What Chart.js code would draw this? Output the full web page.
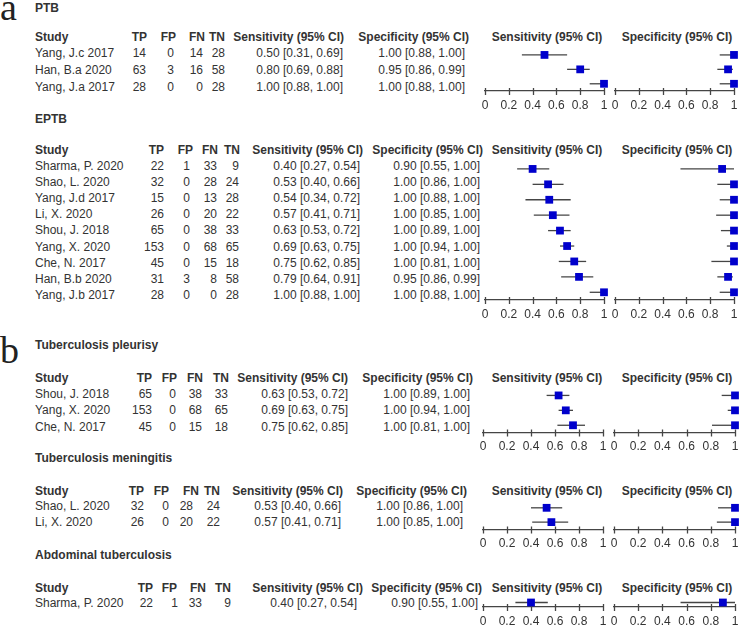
<!DOCTYPE html>
<html>
<head>
<meta charset="utf-8">
<script src="https://cdn.jsdelivr.net/npm/chart.js@4"></script>
<style>
  body { margin: 0; width: 740px; height: 626px; background: #fff; position: relative; overflow: hidden;
         font-family: Arial, Helvetica, sans-serif; color: #333; }
  .t { position: absolute; font-size: 12px; line-height: 14px; height: 14px; white-space: nowrap; }
  .b { font-weight: bold; }
  .panel { position: absolute; left: 0; font-family: "Liberation Serif", "Times New Roman", serif; font-size: 38px; line-height: 38px; color: #222; }
  .fp { position: absolute; }
</style>
</head>
<body>
<div class="panel" style="top:-12px">a</div>
<div class="panel" style="top:331px">b</div>
<script>
// PTB
var ptbStudies = ['Yang, J.c 2017', 'Han, B.a 2020', 'Yang, J.a 2017'];
var ptbCounts = [[14, 0, 14, 28], [63, 3, 16, 58], [28, 0, 0, 28]];
var ptbSens = [[0.50, 0.31, 0.69], [0.80, 0.69, 0.88], [1.00, 0.88, 1.00]];
var ptbSpec = [[1.00, 0.88, 1.00], [0.95, 0.86, 0.99], [1.00, 0.88, 1.00]];

// EPTB
var eptbStudies = ['Sharma, P. 2020', 'Shao, L. 2020', 'Yang, J.d 2017', 'Li, X. 2020', 'Shou, J. 2018',
                   'Yang, X. 2020', 'Che, N. 2017', 'Han, B.b 2020', 'Yang, J.b 2017'];
var eptbCounts = [[22, 1, 33, 9], [32, 0, 28, 24], [15, 0, 13, 28], [26, 0, 20, 22], [65, 0, 38, 33],
                  [153, 0, 68, 65], [45, 0, 15, 18], [31, 3, 8, 58], [28, 0, 0, 28]];
var eptbSens = [[0.40, 0.27, 0.54], [0.53, 0.40, 0.66], [0.54, 0.34, 0.72], [0.57, 0.41, 0.71], [0.63, 0.53, 0.72],
                [0.69, 0.63, 0.75], [0.75, 0.62, 0.85], [0.79, 0.64, 0.91], [1.00, 0.88, 1.00]];
var eptbSpec = [[0.90, 0.55, 1.00], [1.00, 0.86, 1.00], [1.00, 0.88, 1.00], [1.00, 0.85, 1.00], [1.00, 0.89, 1.00],
                [1.00, 0.94, 1.00], [1.00, 0.81, 1.00], [0.95, 0.86, 0.99], [1.00, 0.88, 1.00]];

// Tuberculosis pleurisy
var pleuStudies = ['Shou, J. 2018', 'Yang, X. 2020', 'Che, N. 2017'];
var pleuCounts = [[65, 0, 38, 33], [153, 0, 68, 65], [45, 0, 15, 18]];
var pleuSens = [[0.63, 0.53, 0.72], [0.69, 0.63, 0.75], [0.75, 0.62, 0.85]];
var pleuSpec = [[1.00, 0.89, 1.00], [1.00, 0.94, 1.00], [1.00, 0.81, 1.00]];

// Tuberculosis meningitis
var meniStudies = ['Shao, L. 2020', 'Li, X. 2020'];
var meniCounts = [[32, 0, 28, 24], [26, 0, 20, 22]];
var meniSens = [[0.53, 0.40, 0.66], [0.57, 0.41, 0.71]];
var meniSpec = [[1.00, 0.86, 1.00], [1.00, 0.85, 1.00]];

// Abdominal tuberculosis
var abdoStudies = ['Sharma, P. 2020'];
var abdoCounts = [[22, 1, 33, 9]];
var abdoSens = [[0.40, 0.27, 0.54]];
var abdoSpec = [[0.90, 0.55, 1.00]];

var countHeaders = ['TP', 'FP', 'FN', 'TN'];
var axisTicks = [0, 0.2, 0.4, 0.6, 0.8, 1];

// where each block sits on the page
var sections = [
    { title: 'PTB', studies: ptbStudies, counts: ptbCounts, sens: ptbSens, spec: ptbSpec,
      titleY: 8, headY: 37, rowY: 53, rowStep: 17,
      colR: [146, 174, 203, 225], headR: [147, 176, 205, 225], sensR: 343, sensHeadR: 344, specR: 465, specHeadR: 469,
      markY: 51, markStep: 16, axisY: 91, sensAxis: [485, 604], specAxis: [615, 734] },
    { title: 'EPTB', studies: eptbStudies, counts: eptbCounts, sens: eptbSens, spec: eptbSpec,
      titleY: 119, headY: 150, rowY: 165.5, rowStep: 16.2,
      colR: [164, 190, 217, 239], headR: [164, 193, 218, 240], sensR: 360, sensHeadR: 363, specR: 480, specHeadR: 483,
      markY: 164, markStep: 16, axisY: 300, sensAxis: [485, 604], specAxis: [615, 734] },
    { title: 'Tuberculosis pleurisy', studies: pleuStudies, counts: pleuCounts, sens: pleuSens, spec: pleuSpec,
      titleY: 345, headY: 378, rowY: 394, rowStep: 16.3,
      colR: [152, 176, 202, 228], headR: [152, 177, 203, 229], sensR: 348, sensHeadR: 348, specR: 470, specHeadR: 473,
      markY: 391, markStep: 16.5, axisY: 432, sensAxis: [483, 603], specAxis: [614, 735] },
    { title: 'Tuberculosis meningitis', studies: meniStudies, counts: meniCounts, sens: meniSens, spec: meniSpec,
      titleY: 458, headY: 491, rowY: 506, rowStep: 16,
      colR: [144, 169, 193, 220], headR: [144, 169, 199, 220], sensR: 341, sensHeadR: 343, specR: 463, specHeadR: 467,
      markY: 504, markStep: 16.5, axisY: 529, sensAxis: [483, 603], specAxis: [614, 735] },
    { title: 'Abdominal tuberculosis', studies: abdoStudies, counts: abdoCounts, sens: abdoSens, spec: abdoSpec,
      titleY: 555, headY: 588, rowY: 603, rowStep: 16,
      colR: [153, 178, 202, 231], headR: [153, 177, 206, 231], sensR: 357, sensHeadR: 363, specR: 478, specHeadR: 482,
      markY: 601, markStep: 16, axisY: 607, sensAxis: [483, 603], specAxis: [614, 735] }
];

function txt(s, x, y, align, bold) {
    var d = document.createElement('div');
    d.className = 't' + (bold ? ' b' : '');
    d.textContent = s;
    d.style.top = (y - 7) + 'px';
    if (align === 'right') {
        d.style.right = (740 - x) + 'px';
    } else if (align === 'center') {
        d.style.left = (x - 100) + 'px';
        d.style.width = '200px';
        d.style.textAlign = 'center';
    } else {
        d.style.left = x + 'px';
    }
    document.body.appendChild(d);
}

function ciText(v) {
    return v[0].toFixed(2) + ' [' + v[1].toFixed(2) + ', ' + v[2].toFixed(2) + ']';
}

// one small scatter chart per forest column
function forest(vals, x0, x1, markY, step, axisY) {
    var pad = 12, bottomH = 20;
    var top = markY - step;
    var box = document.createElement('div');
    box.className = 'fp';
    box.style.left = (x0 - pad) + 'px';
    box.style.top = top + 'px';
    box.style.width = (x1 - x0 + 2 * pad) + 'px';
    box.style.height = (axisY - top + bottomH) + 'px';
    var cv = document.createElement('canvas');
    box.appendChild(cv);
    document.body.appendChild(box);

    var ciPlugin = {
        id: 'ciLines',
        beforeDatasetsDraw: function(chart) {
            var ctx = chart.ctx, xs = chart.scales.x, ys = chart.scales.y;
            ctx.save();
            ctx.strokeStyle = '#454545';
            ctx.lineWidth = 1.3;
            vals.forEach(function(v, i) {
                var y = ys.getPixelForValue(i);
                ctx.beginPath();
                ctx.moveTo(xs.getPixelForValue(v[1]), y);
                ctx.lineTo(xs.getPixelForValue(v[2]), y);
                ctx.stroke();
            });
            // tick marks cross the axis line
            var ay = chart.chartArea.bottom;
            axisTicks.forEach(function(t) {
                var x = Math.round(xs.getPixelForValue(t)) + 0.5;
                ctx.beginPath();
                ctx.moveTo(x, ay - 3);
                ctx.lineTo(x, ay + 4);
                ctx.stroke();
            });
            ctx.restore();
        }
    };

    return new Chart(cv.getContext('2d'), {
        type: 'scatter',
        data: {
            datasets: [{
                data: vals.map(function(v, i) { return { x: v[0], y: i }; }),
                pointStyle: 'rect',
                pointRadius: 5.5,
                pointHoverRadius: 5.5,
                backgroundColor: '#0000cc',
                borderColor: '#0000cc',
                borderWidth: 0,
                clip: false
            }]
        },
        options: {
            responsive: true,
            maintainAspectRatio: false,
            animation: false,
            events: [],
            layout: { padding: { left: pad, right: pad, top: 0, bottom: 0 } },
            plugins: { legend: { display: false }, tooltip: { enabled: false } },
            scales: {
                x: {
                    type: 'linear',
                    min: 0,
                    max: 1,
                    afterBuildTicks: function(s) { s.ticks = axisTicks.map(function(v) { return { value: v }; }); },
                    afterFit: function(s) { s.height = bottomH; },
                    grid: { display: false },
                    border: { display: true, color: '#454545', width: 1.3 },
                    ticks: {
                        padding: -1,
                        color: '#333',
                        autoSkip: false,
                        maxRotation: 0,
                        font: { family: 'Arial, Helvetica, sans-serif', size: 12 },
                        callback: function(v) { return String(v); }
                    }
                },
                y: {
                    type: 'linear',
                    display: false,
                    reverse: true,
                    min: -1,
                    max: (axisY - top) / step - 1
                }
            }
        },
        plugins: [ciPlugin]
    });
}

sections.forEach(function(s) {
    txt(s.title, 35, s.titleY, 'left', true);
    txt('Study', 35, s.headY, 'left', true);
    countHeaders.forEach(function(h, j) { txt(h, s.headR[j], s.headY, 'right', true); });
    txt('Sensitivity (95% CI)', s.sensHeadR, s.headY, 'right', true);
    txt('Specificity (95% CI)', s.specHeadR, s.headY, 'right', true);
    txt('Sensitivity (95% CI)', 547, s.headY, 'center', true);
    txt('Specificity (95% CI)', 677, s.headY, 'center', true);

    s.studies.forEach(function(name, i) {
        var y = s.rowY + i * s.rowStep;
        txt(name, 35, y, 'left', false);
        s.counts[i].forEach(function(c, j) { txt(String(c), s.colR[j], y, 'right', false); });
        txt(ciText(s.sens[i]), s.sensR, y, 'right', false);
        txt(ciText(s.spec[i]), s.specR, y, 'right', false);
    });

    forest(s.sens, s.sensAxis[0], s.sensAxis[1], s.markY, s.markStep, s.axisY);
    forest(s.spec, s.specAxis[0], s.specAxis[1], s.markY, s.markStep, s.axisY);
});
</script>
</body>
</html>
